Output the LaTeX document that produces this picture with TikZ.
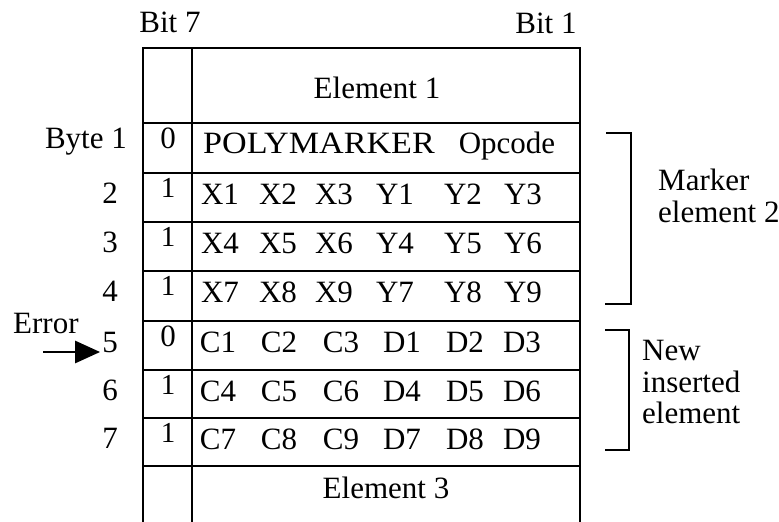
\documentclass[tikz,border=0pt]{standalone}
\usepackage{fontspec}
\setmainfont{Liberation Serif}
\usetikzlibrary{arrows.meta}
\begin{document}
\begin{tikzpicture}[x=1pt,y=-1pt,
  grid/.style={line width=2.8pt, line join=miter},
  txt/.style={inner sep=0pt, anchor=base, font=\fontsize{31}{37}\selectfont},
  lbl/.style={txt, anchor=base east},
  side/.style={txt, anchor=base west},
  bitone/.style={txt, font=\fontsize{29}{34}\selectfont},
  errarrow/.style={line width=2.8pt, -{Triangle[length=25pt,width=22pt]}}
]
\useasboundingbox (0,0) rectangle (779,522);

% table grid
\draw[grid] (143,522) -- (143,48) -- (580,48) -- (580,522);
\draw[grid] (192,48) -- (192,522);
\foreach \y in {123,173,222,271,321,370,418,466}
  \draw[grid] (143,\y) -- (580,\y);

% headers
\node[txt] (bit7) at (170,32) {Bit 7};
\node[txt] (bit1) at (546,33) {Bit 1};

% element rows
\node[txt] (el1) at (377,98) {Element 1};
\node[txt] (el3) at (386,498) {Element 3};
\node[txt] (polya) at (319,153) {\scalebox{1.1}[1]{POLYMARKER}};
\node[txt] (polyb) at (507,153) {Opcode};

% byte labels
\node[lbl] (b1) at (127,148) {Byte 1};
\node[lbl] (l2) at (118,203) {2};
\node[lbl] (l3) at (118,252) {3};
\node[lbl] (l4) at (118,301) {4};
\node[lbl] (l5) at (118,352) {5};
\node[lbl] (l6) at (118,400) {6};
\node[lbl] (l7) at (118,448) {7};

% bit 7 column
\node[txt] (d1) at (168,148) {0};
\node[bitone] (d2) at (168,197) {1};
\node[bitone] (d3) at (168,246) {1};
\node[bitone] (d4) at (168,295) {1};
\node[txt] (d5) at (168,346) {0};
\node[bitone] (d6) at (168,394) {1};
\node[bitone] (d7) at (168,442) {1};

% coordinate rows
\foreach \a/\b/\c/\d/\e/\f/\yy/\r in {X1/X2/X3/Y1/Y2/Y3/204/r2, X4/X5/X6/Y4/Y5/Y6/253/r3, X7/X8/X9/Y7/Y8/Y9/302/r4}{
  \node[txt] (\r a) at (220,\yy) {\a};
  \node[txt] (\r b) at (278,\yy) {\b};
  \node[txt] (\r c) at (334,\yy) {\c};
  \node[txt] (\r d) at (395,\yy) {\d};
  \node[txt] (\r e) at (463,\yy) {\e};
  \node[txt] (\r f) at (523,\yy) {\f};
}
\foreach \a/\b/\c/\d/\e/\f/\yy/\r in {C1/C2/C3/D1/D2/D3/352/r5, C4/C5/C6/D4/D5/D6/401/r6, C7/C8/C9/D7/D8/D9/449/r7}{
  \node[txt] (\r a) at (218,\yy) {\a};
  \node[txt] (\r b) at (279,\yy) {\b};
  \node[txt] (\r c) at (341,\yy) {\c};
  \node[txt] (\r d) at (402,\yy) {\d};
  \node[txt] (\r e) at (465,\yy) {\e};
  \node[txt] (\r f) at (522,\yy) {\f};
}

% brackets
\draw[grid] (606,133) -- (631,133) -- (631,304) -- (605,304);
\draw[grid] (605,330) -- (629,330) -- (629,450) -- (605,450);

\node[side] (mk1) at (658,190) {Marker};
\node[side] (mk2) at (658,222) {element 2};
\node[side] (nw1) at (642,360) {New};
\node[side] (nw2) at (642,392) {inserted};
\node[side] (nw3) at (642,423) {element};

% error arrow
\node[side] (err) at (13,333) {Error};
\coordinate (errtail) at (43,352);
\draw[errarrow] (errtail) -- ([xshift=-2pt]l5.base west);
\end{tikzpicture}
\end{document}
